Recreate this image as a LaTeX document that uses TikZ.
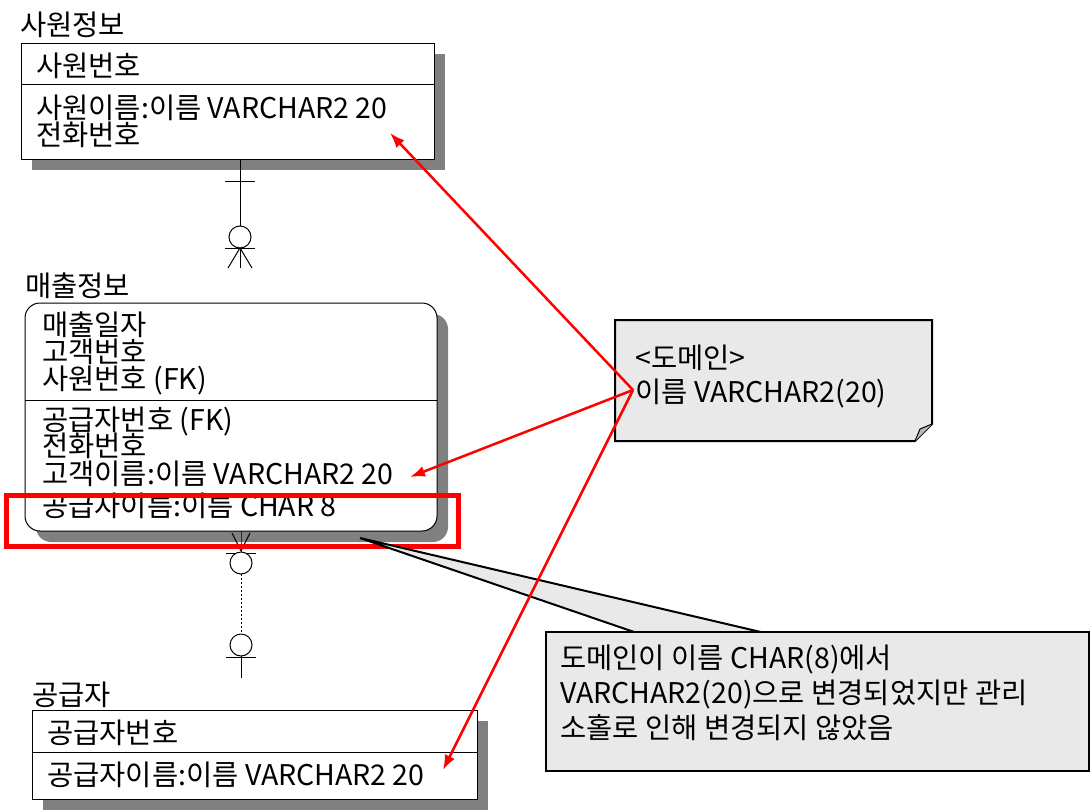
\documentclass[tikz,border=0pt]{standalone}
\usepackage{fontspec}
\setmainfont{Noto Sans CJK KR}
\usepackage{tikz}
\usetikzlibrary{positioning,shadows,arrows.meta}
\definecolor{shadeclr}{RGB}{128,128,128}
\definecolor{noteclr}{RGB}{233,233,233}
\definecolor{foldclr}{RGB}{185,185,185}
\definecolor{markclr}{RGB}{255,0,0}
\tikzset{ %
  ,>=latex
  ,every node/.style={font=\fontsize{28.5}{30}\selectfont}
  ,entity/.style={draw, line width=1pt, fill=white, inner sep=0, outer sep=0, anchor=north west,
     drop shadow={shadow xshift=11pt, shadow yshift=-11pt, fill=shadeclr, opacity=1}}
  ,attr/.style={anchor=base west, inner sep=0}
  ,title/.style={anchor=base west, inner sep=0}
  ,rel/.style={line width=1pt}
  ,hole/.style={draw, circle, line width=1pt, inner sep=0, minimum size=22pt, fill=white}
  ,domarrow/.style={draw=markclr, line width=2.5pt, -{Latex[length=15pt,width=11pt]}}
  ,frame/.style={draw, line width=2pt, fill=noteclr, inner sep=0, outer sep=0, anchor=north west}
}

\begin{document}
\begin{tikzpicture}[x=1pt, y=-1pt]
\useasboundingbox (0,0) rectangle (1091,811);

% 사원정보
\node[title] (emptitle) at (20,35) {사원정보};
\node[entity, minimum width=413pt, minimum height=116pt] (emp) at (21,43) {};
\draw[rel] ([yshift=-41pt]emp.north west) -- ([yshift=-41pt]emp.north east);
\node[attr] (empno) at (36,76) {사원번호};
\node[attr] (empname) at (36,118) {사원이름:이름 VARCHAR2 20};
\node[attr] (emptel) at (36,145) {전화번호};

% 매출정보
\node[title] (saletitle) at (25,296) {매출정보};
\node[entity, rounded corners=15pt, minimum width=412pt, minimum height=228pt] (sale) at (25,303) {};
\draw[rel] ([yshift=-97pt]sale.north west) -- ([yshift=-97pt]sale.north east);
\node[attr] (saledate) at (42,335) {매출일자};
\node[attr] (salecust) at (42,362) {고객번호};
\node[attr] (saleemp) at (42,389) {사원번호 (FK)};
\node[attr] (salesup) at (42,430) {공급자번호 (FK)};
\node[attr] (saletel) at (42,456) {전화번호};
\node[attr] (salecname) at (42,484) {고객이름:이름 VARCHAR2 20};
\node[attr] (salesname) at (42,516) {공급자이름:이름 CHAR 8};

% 공급자
\node[title] (suptitle) at (32,705) {공급자};
\node[entity, minimum width=445pt, minimum height=89pt] (sup) at (32,710) {};
\draw[rel] ([yshift=-42pt]sup.north west) -- ([yshift=-42pt]sup.north east);
\node[attr] (supno) at (47,743) {공급자번호};
\node[attr] (supname) at (47,785) {공급자이름:이름 VARCHAR2 20};

% 사원정보 - 매출정보
\coordinate (r1a) at (240,159);
\coordinate (r1b) at (240,248);
\coordinate (r1c) at (240,268);
\draw[rel] (r1a) -- (r1c);
\draw[rel] (225,181) -- (255,181);
\node[hole] (r1o) at (240,237) {};
\draw[rel] (225,248) -- (255,248);
\draw[rel] (r1b) -- (228,268) (r1b) -- (252,268);

% 매출정보 - 공급자
\coordinate (r2a) at (241,531);
\coordinate (r2b) at (241,551);
\coordinate (r2c) at (241,678);
\draw[rel] (r2a) -- (r2b) -- (241,553);
\draw[rel] (232,533) -- (r2b) (250,533) -- (r2b);
\draw[rel] (226,553) -- (256,553);
\draw[rel, dashed, dash pattern=on 2pt off 2pt] (241,574) -- (241,634);
\node[hole] (r2o) at (241,563) {};
\node[hole] (r2p) at (241,645) {};
\draw[rel] (226,657) -- (256,657);
\draw[rel] (241,656) -- (r2c);

% 강조
\draw[markclr, line width=5pt] (6,495) rectangle (458,546);

% 도메인 메모
\coordinate (note) at (615,320);
\filldraw[fill=noteclr, line width=2pt] (note) -- (932,320) -- (932,424) -- (915,441) -- (615,441) -- cycle;
\filldraw[fill=foldclr, line width=1pt] (932,424) -- (920,429) -- (915,441);
\node[attr] (domtitle) at (635,368) {<도메인>};
\node[attr] (domtype) at (635,402) {이름 VARCHAR2(20)};

% 설명
\coordinate (ptip) at (360,538);
\filldraw[fill=noteclr, line width=2pt] (ptip) -- (637,633) -- (765,633) -- cycle;
\node[frame, minimum width=543pt, minimum height=139pt] (call) at (546,632) {};
\node[attr] (callone) at (560,668) {도메인이 이름 CHAR(8)에서};
\node[attr] (calltwo) at (560,703) {VARCHAR2(20)으로 변경되었지만 관리};
\node[attr] (callthree) at (560,738) {소홀로 인해 변경되지 않았음};

% 화살표
\coordinate (domsrc) at (633,390);
\coordinate (empto) at (390,133);
\coordinate (saleto) at (410,477);
\coordinate (supto) at (443,770);
\draw[domarrow] (domsrc) -- (empto);
\draw[domarrow] (domsrc) -- (saleto);
\draw[domarrow] (domsrc) -- (supto);
\end{tikzpicture}
\end{document}
